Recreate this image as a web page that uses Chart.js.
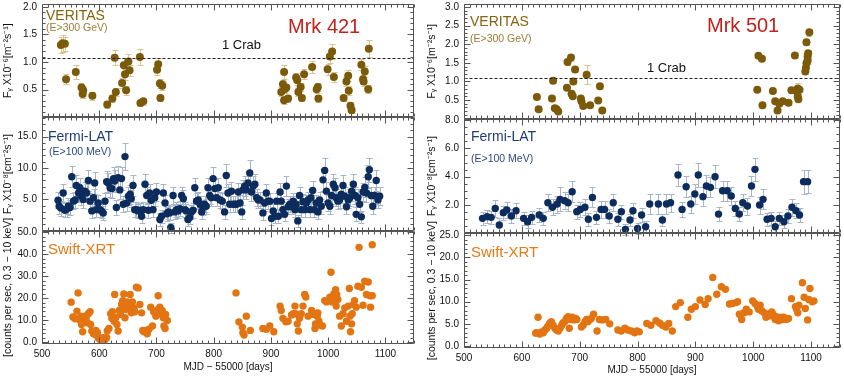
<!DOCTYPE html>
<html><head><meta charset="utf-8">
<script src="https://cdn.jsdelivr.net/npm/chart.js@4/dist/chart.umd.min.js"></script>
<style>
html,body{margin:0;padding:0;background:#fff;width:844px;height:376px;overflow:hidden}
#c1{position:absolute;left:0;top:0}
#c2{position:absolute;left:422px;top:0}
</style></head><body>
<canvas id="c1" width="420" height="376"></canvas>
<canvas id="c2" width="422" height="376"></canvas>
<script>
// ---------- tick labels ----------
const xTicks = [500, 600, 700, 800, 900, 1000, 1100];
const m421VerTicks = [0.5, 1.0, 1.5, 2.0];
const m421LatTicks = [5, 10, 15];
const m421XrtTicks = [0, 10, 20, 30, 40, 50];
const m501VerTicks = [0.5, 1.0, 1.5, 2.0, 2.5, 3.0];
const m501LatTicks = [2, 4, 6, 8];
const m501XrtTicks = [0, 5, 10, 15, 20, 25];
const crab421 = 1.07;
const crab501 = 1.10;

// ---------- Mrk 421 : VERITAS ----------
const m421VerMjd = [533,536,540,542,559,569,571,572,588,614, 623,627,629,640,643,645,647,651,653,671, 672,677,701,703,706,707,710,
  918,921,923,923,924,927,930,944,946,948, 952,954,958,972,980,982,983,999,1003,1007, 1010,1027,1032,1035,1036,1039,1041,1058,1061,1062, 1064,1070,1071];
const m421VerFlux = [1.31,1.34,1.33,0.69,0.82,0.54,0.42,0.49,0.39,0.23, 0.34,1.08,0.46,0.62,0.94,0.78,0.49,1.01,0.85,1.09, 0.26,0.29,0.86,0.96,0.61,0.35,0.57,
  0.46,0.60,0.82,0.31,0.51,0.54,0.34,0.72,0.67,0.46, 0.55,0.35,0.78,0.91,0.51,0.55,0.34,0.87,1.10,1.19, 0.73,0.35,0.65,0.75,0.48,0.21,0.13,0.95,0.69,0.65, 0.83,0.51,1.24];
const m421VerErr = [0.14,0.15,0.13,0.09,0.13,0.08,0.07,0.07,0.07,0.06, 0.06,0.14,0.07,0.09,0.13,0.10,0.08,0.13,0.10,0.14, 0.06,0.06,0.09,0.11,0.08,0.06,0.08,
  0.08,0.08,0.12,0.06,0.07,0.07,0.06,0.08,0.08,0.07, 0.07,0.06,0.09,0.10,0.07,0.07,0.06,0.10,0.12,0.14, 0.09,0.06,0.08,0.10,0.08,0.06,0.05,0.10,0.08,0.08, 0.10,0.07,0.15];

// ---------- Mrk 421 : Fermi-LAT ----------
const m421LatMjd = [528,530,533,537,540,543,546,549,552,555, 558,560,564,566,569,572,575,578,581,584,
  587,590,592,595,598,601,604,607,610,613, 616,619,622,625,627,630,633,636,639,642,
  645,648,651,654,656,659,662,665,668,671, 674,677,680,683,686,688,691,694,697,700,
  706,709,712,715,718,721,723,725,729,732, 735,738,741,744,747,750,752,755,758,761,
  764,767,770,773,776,779,781,784,787,790, 793,796,799,802,805,808,811,815,819,822,
  825,828,831,834,837,840,843,846,849,851, 854,857,860,863,866,869,872,875,878,881,
  886,889,892,895,898,901,904,907,910,913, 916,918,921,924,927,930,933,936,939,942,
  944,947,950,953,956,959,962,965,968,970, 973,976,979,982,985,988,991,994,997,1000,
  1003,1006,1009,1012,1014,1017,1020,1023,1026,1029, 1032,1035,1038,1041,1044,1047,1049,1052,1055,1058,
  1061,1064,1067,1070,1072,1075,1078,1081,1084,1087, 1090];
const m421LatFlux = [4.84,3.9,3.6,6.0,3.25,3.4,3.9,3.7,8.6,4.7, 4.9,7.2,6.0,6.85,5.5,4.95,6.3,6.0,8.0,4.7,
  3.15,5.26,7.6,3.35,4.4,3.35,3.15,2.8,4.7,7.8, 7.6,6.85,6.7,8.3,7.9,3.7,8.45,6.5,8.3,4.2,
  11.8,4.4,5.5,5.8,5.1,7.2,3.35,3.35,3.15,3.25, 2.3,3.35,7.4,5.6,3.25,6.0,4.84,3.35,5.26,6.16,
  1.77,2.3,6.0,4.4,2.7,2.99,2.83,0.5,5.6,2.99, 3.35,3.15,3.5,5.6,5.1,3.35,3.15,1.77,2.1,2.99,
  3.25,6.85,4.7,4.9,4.2,2.99,3.7,4.2,3.9,6.85, 5.6,5.26,8.3,6.7,5.26,6.85,4.9,4.7,2.99,8.8,
  6.0,4.2,6.3,4.2,4.2,4.2,6.16,4.4,2.99,6.5, 7.1,6.5,7.6,9.2,6.16,7.1,7.4,5.26,4.9,4.9,
  2.83,4.4,6.0,4.7,4.7,1.93,3.15,2.3,4.7,2.3, 6.16,4.7,3.35,2.6,7.1,3.8,4.2,3.8,4.7,3.35,
  4.2,1.56,5.6,3.35,4.6,3.35,4.4,4.9,3.35,5.26, 6.4,3.35,4.4,2.99,4.9,3.9,8.1,9.6,6.3,4.4,
  3.9,5.6,7.4,6.85,5.26,4.7,4.9,5.8,7.2,5.5, 3.8,4.9,5.26,6.3,7.4,5.6,2.6,5.26,4.2,2.2,
  6.16,6.9,6.0,8.6,9.7,5.6,3.9,5.6,8.0,4.9, 5.5];
const m421LatErr = [1.3,1.2,1.2,1.5,1.1,1.2,1.3,1.2,1.7,1.3, 1.3,1.6,1.5,1.6,1.4,1.3,1.5,1.4,1.7,1.3,
  1.1,1.4,1.7,1.2,1.3,1.2,1.1,1.1,1.3,1.7, 1.6,1.5,1.5,1.8,1.7,1.2,1.8,1.5,1.8,1.3,
  2.1,1.3,1.4,1.5,1.4,1.6,1.2,1.2,1.1,1.2, 1.0,1.2,1.6,1.4,1.2,1.5,1.3,1.2,1.4,1.5,
  1.0,1.0,1.5,1.3,1.1,1.1,1.1,0.8,1.4,1.1, 1.2,1.1,1.2,1.4,1.4,1.2,1.1,1.0,1.0,1.1,
  1.2,1.6,1.3,1.3,1.3,1.1,1.2,1.3,1.2,1.6, 1.4,1.4,1.8,1.5,1.4,1.6,1.3,1.3,1.1,1.9,
  1.5,1.3,1.5,1.3,1.3,1.3,1.5,1.3,1.1,1.5, 1.6,1.5,1.7,2.0,1.5,1.6,1.6,1.4,1.3,1.3,
  1.1,1.3,1.5,1.3,1.3,1.0,1.1,1.0,1.3,1.0, 1.5,1.3,1.2,1.1,1.6,1.2,1.3,1.2,1.3,1.2,
  1.3,1.0,1.4,1.2,1.3,1.2,1.3,1.3,1.2,1.4, 1.5,1.2,1.3,1.1,1.3,1.2,1.8,1.9,1.5,1.3,
  1.2,1.4,1.6,1.6,1.4,1.3,1.3,1.4,1.6,1.4, 1.2,1.3,1.4,1.5,1.6,1.4,1.1,1.4,1.3,1.0,
  1.5,1.6,1.5,1.8,1.9,1.4,1.2,1.4,1.7,1.3, 1.4];

// ---------- Mrk 421 : Swift-XRT ----------
const m421XrtMjd = [551,554,558,561,563,565,568,571,573,575, 577,569,571,579,581,584,585,587,590,593,
  594,597,598,601,604,607,610,613,614,617, 620,622,623,626,627,629,631,633,635,637,
  639,641,643,645,646,649,651,654,656,658, 661,662,665,668,671,674,676,678,681,684,
  687,690,693,695,699,702,703,706,707,710, 712,713,715,716,719,
  839,844,850,851,853,857,864,886,892,898, 905,916,918,921,926,930,936,939,942,943,
  946,948,950,953,956,959,961,965,971,974, 977,978,981,982,984,986,990,994,997,1003,
  1005,1007,1010,1011,1013,1014,1015,1017,1020,1023, 1026,1029,1032,1035,1037,1038,1041,1039,1042,1044,
  1046,1049,1052,1054,1058,1061,1064,1067,1070,1073, 1074,1077,1077];
const m421XrtRate = [18.2,11.4,10.6,14.1,22.4,10.3,11.8,10.8,9.5,11.8, 10.8,8.0,4.7,8.8,12.9,13.8,8.0,5.0,3.8,3.5,
  5.3,4.2,2.0,1.2,0.5,2.0,1.2,2.0,5.0,6.2, 12.9,10.8,13.8,9.5,21.7,11.1,8.0,5.0,14.4,12.6,
  17.1,18.9,21.9,11.1,14.8,18.3,15.9,21.7,13.3,18.3, 15.6,13.8,25.0,24.7,17.1,13.3,5.3,4.7,5.3,3.8,
  5.8,15.9,7.3,13.8,11.8,14.8,21.1,15.9,12.9,14.4, 11.1,7.3,6.2,12.6,9.8,
  22.4,9.2,6.8,4.2,3.2,11.8,5.3,6.2,5.8,7.3, 4.7,16.4,14.4,10.8,9.2,9.5,12.3,12.9,16.4,12.9,
  8.3,5.0,10.8,12.9,16.4,21.7,20.5,11.8,14.4,12.6, 6.2,8.3,11.8,13.3,9.5,7.7,7.3,18.9,18.3,20.5,
  31.8,18.3,22.0,19.4,23.9,16.4,21.7,19.4,11.8,7.3, 12.9,15.6,9.5,16.4,24.4,11.8,8.3,4.7,12.9,17.1,
  18.9,15.9,25.5,43.2,25.0,16.8,27.7,21.7,27.4,21.1, 15.9,44.4,21.1];

// ---------- Mrk 501 : VERITAS ----------
const m501VerMjd = [626,629,652,654,657,660,663,678,679,685, 686,688,689,692,702,703,706,712,718,732, 735,739,
  1007,1009,1015,1016,1034,1038,1042,1045,1051,1061, 1066,1072,1074,1077,1078,1077,1080,1090,1091,1092, 1094,1092,1095,1094,1097];
const m501VerFlux = [0.58,0.25,0.54,1.02,0.28,0.25,0.19,0.83,1.52,1.64, 0.67,0.60,1.00,1.32,0.54,0.47,0.34,1.18,0.36,0.49, 0.87,0.22,
  0.78,1.69,1.61,0.36,0.74,0.47,0.22,0.40,0.47,0.43, 0.76,1.70,0.74,0.60,0.52,0.81,0.78,1.27,1.36,2.05, 1.67,1.49,1.76,1.56,2.32];
const m501VerErr = [0.05,0.04,0.06,0.07,0.05,0.05,0.05,0.06,0.07,0.08, 0.05,0.05,0.08,0.07,0.05,0.05,0.05,0.25,0.05,0.05, 0.06,0.06,
  0.05,0.07,0.07,0.07,0.05,0.05,0.05,0.05,0.05,0.05, 0.05,0.06,0.05,0.05,0.05,0.15,0.05,0.08,0.08,0.08, 0.08,0.08,0.08,0.08,0.10];

// ---------- Mrk 501 : Fermi-LAT ----------
const m501LatMjd = [532,540,547,554,561,568,574,582,590,603, 610,617,630,637,645,653,661,666,674,680,
  687,695,701,709,715,722,729,737,743,751, 758,766,772,779,787,792,800,807,814,821,
  836,843,850,857,870,877,884,892,899,905, 913,919,926,934,940,947,955,962,969,976,
  982,990,997,1003,1011,1017,1024,1031,1038,1045, 1053,1060,1067,1074,1080,1087,1094];
const m501LatFlux = [1.06,1.18,1.13,1.76,0.59,1.46,1.65,1.22,1.60,1.06, 0.82,1.13,1.29,1.06,2.16,1.84,2.07,2.40,2.30,2.16,
  2.94,1.53,1.69,1.84,0.99,2.54,1.13,1.69,1.69,1.22, 2.16,0.99,1.53,0.28,0.94,1.60,0.35,1.29,0.47,2.07,
  2.07,0.94,2.07,2.16,4.12,1.69,3.29,2.07,2.78,4.12, 2.59,3.34,3.25,4.00,1.36,3.01,3.01,2.64,1.76,1.36,
  2.16,1.93,3.34,4.52,2.00,2.40,0.99,1.06,0.47,1.06, 0.82,1.22,1.84,1.60,1.29,3.65,3.65];
const m501LatErr = [0.45,0.45,0.45,0.6,0.5,0.5,0.55,0.5,0.55,0.45, 0.45,0.45,0.5,0.45,0.6,0.55,0.6,0.85,0.6,0.6,
  0.75,0.5,0.55,0.55,0.45,0.7,0.45,0.6,0.6,0.5, 0.6,0.45,0.5,0.4,0.45,0.55,0.4,0.5,0.4,0.7,
  0.7,0.45,0.7,0.65,0.8,0.55,0.75,0.6,0.7,0.85, 0.65,0.75,0.7,0.8,0.5,0.7,0.7,0.65,0.55,0.5,
  0.6,0.6,0.7,0.8,0.6,0.7,0.45,0.45,0.4,0.45, 0.45,0.5,0.6,0.55,0.5,0.85,0.8];

// ---------- Mrk 501 : Swift-XRT ----------
const m501XrtMjd = [624,625,628,631,634,637,640,643,645,648, 651,654,657,660,663,666,669,671,674,677,
  680,682,684,687,690,693,695,703,706,709, 712,714,717,720,724,730,734,739,745,752,
  766,772,778,783,789,795,799,803,816,823, 832,838,843,849,854,860,866,874,887,893,
  900,908,917,922,930,937,945,952,959,964, 970,973,976,980,984,988,993,999,1003,1007,
  1009,1012,1015,1019,1022,1025,1029,1032,1034,1038, 1040,1044,1048,1051,1053,1057,1061,1066,1073,1075,
  1077,1079,1085,1088,1090,1094,1096,1098,1102,1105];
const m501XrtRate = [2.9,3.0,6.5,2.7,3.2,3.0,3.6,4.0,4.5,5.1, 5.5,4.7,4.0,3.6,3.4,4.0,4.7,5.2,5.5,6.2,
  6.6,4.0,6.0,6.5,5.9,6.2,6.0,4.3,4.7,5.5, 6.0,5.5,5.9,6.2,7.2,3.4,6.0,5.9,6.0,5.0,
  3.6,3.4,4.0,3.6,3.4,3.0,3.4,3.2,5.1,4.7, 5.7,5.2,4.7,4.3,5.1,3.4,8.9,9.8,6.5,8.3,
  8.9,10.4,9.4,10.7,15.5,11.7,13.4,12.8,9.5,9.6, 9.8,10.0,7.2,6.0,7.5,8.3,7.7,10.2,9.6,9.0,
  8.3,9.2,7.9,7.5,6.5,7.2,6.8,7.7,7.2,6.0, 6.6,5.7,6.5,6.0,6.5,6.0,6.2,10.7,8.9,8.3,
  7.5,9.2,14.3,11.0,8.5,5.9,10.5,13.0,10.0,10.2];

// ---------- drawing helpers ----------
const FONT = '"Liberation Sans", Arial, Helvetica, sans-serif';
const TITLE_V = 'F\u1D67 X10\u207B\u2076[m\u207B\u00B2s\u207B\u00B9]';
const TITLE_F = 'F\u1D67 X10\u207B\u2078[cm\u207B\u00B2s\u207B\u00B9]';
const TITLE_S = '[counts per sec, 0.3 \u2212 10 keV]';
const COL_V = '#7b5a0a', COL_VE = '#d8c48e';
const COL_F = '#0d2c5e', COL_FE = '#a8b6cc';
const COL_S = '#e37412';

const pts = (xs, ys) => xs.map((x, i) => ({x: x, y: ys[i]}));

const deco = {
  id: 'deco',
  beforeDatasetsDraw(chart) {
    const ctx = chart.ctx;
    chart.data.datasets.forEach(ds => {
      if (!ds.errs) return;
      const xs = chart.scales.x, ys = chart.scales[ds.yAxisID];
      ctx.save();
      ctx.strokeStyle = ds.errColor; ctx.lineWidth = 1;
      ds.data.forEach((p, i) => {
        const e = ds.errs[i];
        const px = Math.round(xs.getPixelForValue(p.x)) + 0.5;
        const y1 = Math.round(ys.getPixelForValue(p.y - e)) + 0.5;
        const y2 = Math.round(ys.getPixelForValue(p.y + e)) + 0.5;
        ctx.beginPath();
        ctx.moveTo(px, y1); ctx.lineTo(px, y2);
        ctx.moveTo(px - 3, y1); ctx.lineTo(px + 3, y1);
        ctx.moveTo(px - 3, y2); ctx.lineTo(px + 3, y2);
        ctx.stroke();
      });
      ctx.restore();
    });
  },
  afterDatasetsDraw(chart, args, o) {
    const ctx = chart.ctx, ca = chart.chartArea, xs = chart.scales.x;
    ctx.save();
    const L = Math.round(ca.left) + 0.5, R = Math.round(ca.right) - 0.5;
    // crab line
    if (o.crab) {
      const s = chart.scales[o.crab.id];
      const y = Math.round(s.getPixelForValue(o.crab.value)) + 0.5;
      ctx.strokeStyle = '#222'; ctx.lineWidth = 1; ctx.setLineDash([3, 2]);
      ctx.beginPath(); ctx.moveTo(L, y); ctx.lineTo(R, y); ctx.stroke();
      ctx.setLineDash([]);
    }
    ctx.strokeStyle = '#555'; ctx.lineWidth = 1;
    o.panels.forEach(p => {
      const s = chart.scales[p.id];
      const T = Math.round(s.top) + 0.5, B = Math.round(s.bottom) - 0.5;
      ctx.beginPath();
      ctx.rect(L, T, R - L, B - T);
      for (let v = 500; v <= 1150; v += 10) {
        const x = Math.round(xs.getPixelForValue(v)) + 0.5;
        const len = (v % 100 === 0) ? 6 : 3;
        ctx.moveTo(x, B); ctx.lineTo(x, B - len);
        ctx.moveTo(x, T); ctx.lineTo(x, T + len);
      }
      const k0 = Math.ceil(s.min / p.minor - 1e-6), k1 = Math.floor(s.max / p.minor + 1e-6);
      for (let k = k0; k <= k1; k++) {
        const v = k * p.minor;
        const isMajor = p.major.some(m => Math.abs(m - v) < 1e-6);
        const y = Math.round(s.getPixelForValue(v)) + 0.5;
        const len = isMajor ? 6 : 3;
        ctx.moveTo(L, y); ctx.lineTo(L + len, y);
        ctx.moveTo(R, y); ctx.lineTo(R - len, y);
      }
      ctx.stroke();
    });
    ctx.textBaseline = 'middle'; ctx.textAlign = 'left';
    o.texts.forEach(t => {
      ctx.font = t.font; ctx.fillStyle = t.color;
      ctx.fillText(t.t, t.x, t.y);
    });
    ctx.restore();
  }
};

function yAxis(min, max, ticks, title, weight, tpad) {
  return {
    type: 'linear', position: 'left', stack: 'col', stackWeight: 1, weight: weight,
    min: min, max: max,
    grid: {display: false, drawTicks: false}, border: {display: false},
    afterBuildTicks: s => { s.ticks = ticks.map(v => ({value: v})); },
    afterFit: s => { s.width = 42; s.paddingTop = 0; s.paddingBottom = 0; s.paddingLeft = 0; s.paddingRight = 0; },
    ticks: {autoSkip: false, padding: 5, color: '#111', font: {family: FONT, size: 10},
      callback: v => Number(v).toFixed(1)},
    title: {display: true, text: title, color: '#111', font: {family: FONT, size: 10.5, lineHeight: 1.2},
      padding: {top: tpad, bottom: 0}}
  };
}

function makeChart(id, d) {
  return new Chart(document.getElementById(id), {
    type: 'scatter',
    data: {datasets: [
      {data: pts(d.vx, d.vy), yAxisID: 'yV', errs: d.ve, errColor: COL_VE,
        pointRadius: 4, pointBackgroundColor: COL_V, pointBorderColor: COL_V, pointBorderWidth: 0},
      {data: pts(d.fx, d.fy), yAxisID: 'yF', errs: d.fe, errColor: COL_FE,
        pointRadius: 3.7, pointBackgroundColor: COL_F, pointBorderColor: COL_F, pointBorderWidth: 0},
      {data: pts(d.sx, d.sy), yAxisID: 'yS',
        pointRadius: 3.7, pointBackgroundColor: COL_S, pointBorderColor: COL_S, pointBorderWidth: 0}
    ]},
    options: {
      responsive: false, animation: false, devicePixelRatio: 1,
      layout: {padding: {top: 3, right: d.padR, left: 0, bottom: 0}},
      plugins: {legend: {display: false}, tooltip: {enabled: false},
        deco: {crab: {id: 'yV', value: d.crab},
          panels: [
            {id: 'yV', minor: d.minV, major: d.tV},
            {id: 'yF', minor: d.minF, major: d.tF},
            {id: 'yS', minor: d.minS, major: d.tS}],
          texts: d.texts}},
      scales: {
        x: {type: 'linear', position: 'bottom', min: 500, max: 1150,
          grid: {display: false, drawTicks: false}, border: {display: false},
          afterBuildTicks: s => { s.ticks = xTicks.map(v => ({value: v})); },
          afterFit: s => { s.height = d.xh; s.paddingLeft = 0; s.paddingRight = 0; },
          ticks: {autoSkip: false, maxRotation: 0, padding: d.xpad, color: '#111', font: {family: FONT, size: 10},
            callback: v => String(v)},
          title: {display: true, text: 'MJD \u2212 55000 [days]', color: '#111', font: {family: FONT, size: 10, lineHeight: 1.2},
            padding: {top: 0, bottom: d.xtpad}}},
        yV: yAxis(d.rV[0], d.rV[1], d.tV, TITLE_V, 3, d.tpad),
        yF: yAxis(d.rF[0], d.rF[1], d.tF, TITLE_F, 2, d.tpad),
        yS: yAxis(d.rS[0], d.rS[1], d.tS, TITLE_S, 1, d.tpad)
      }
    },
    plugins: [deco]
  });
}

Chart.defaults.font.family = FONT;

makeChart('c1', {
  vx: m421VerMjd, vy: m421VerFlux, ve: m421VerErr,
  fx: m421LatMjd, fy: m421LatFlux, fe: m421LatErr,
  sx: m421XrtMjd, sy: m421XrtRate,
  rV: [0, 2.05], rF: [0, 18.06], rS: [-0.9, 50.8],
  tV: m421VerTicks, tF: m421LatTicks, tS: m421XrtTicks,
  minV: 0.1, minF: 1, minS: 2,
  crab: crab421, padR: 6, xh: 32, xpad: 4, xtpad: 3, tpad: 2,
  texts: [
    {t: 'VERITAS', x: 46, y: 16.5, font: '14px ' + FONT, color: '#866410'},
    {t: '(E>300 GeV)', x: 46, y: 28.5, font: '10.5px ' + FONT, color: '#9c7c34'},
    {t: 'Mrk 421', x: 288, y: 27, font: '20px ' + FONT, color: '#c2221c'},
    {t: '1 Crab', x: 222, y: 45.5, font: '13px ' + FONT, color: '#111'},
    {t: 'Fermi-LAT', x: 48, y: 137, font: '14px ' + FONT, color: '#1d3c78'},
    {t: '(E>100 MeV)', x: 49, y: 152.5, font: '10.5px ' + FONT, color: '#2b4a82'},
    {t: 'Swift-XRT', x: 48, y: 249.5, font: '15px ' + FONT, color: '#e47a18'}
  ]
});

makeChart('c2', {
  vx: m501VerMjd, vy: m501VerFlux, ve: m501VerErr,
  fx: m501LatMjd, fy: m501LatFlux, fe: m501LatErr,
  sx: m501XrtMjd, sy: m501XrtRate,
  rV: [0, 3.08], rF: [0, 8.1], rS: [-0.45, 25.45],
  tV: m501VerTicks, tF: m501LatTicks, tS: m501XrtTicks,
  minV: 0.1, minF: 0.5, minS: 1,
  crab: crab501, padR: 3, xh: 28, xpad: 4.5, xtpad: 0, tpad: 4,
  texts: [
    {t: 'VERITAS', x: 48, y: 22.5, font: '14px ' + FONT, color: '#866410'},
    {t: '(E>300 GeV)', x: 48, y: 39, font: '10.5px ' + FONT, color: '#9c7c34'},
    {t: 'Mrk 501', x: 285, y: 26, font: '20px ' + FONT, color: '#c2221c'},
    {t: '1 Crab', x: 225, y: 68, font: '13px ' + FONT, color: '#111'},
    {t: 'Fermi-LAT', x: 49, y: 137.5, font: '14px ' + FONT, color: '#1d3c78'},
    {t: '(E>100 MeV)', x: 49, y: 159, font: '10.5px ' + FONT, color: '#2b4a82'},
    {t: 'Swift-XRT', x: 49, y: 253, font: '15px ' + FONT, color: '#e47a18'}
  ]
});
</script></body></html>
